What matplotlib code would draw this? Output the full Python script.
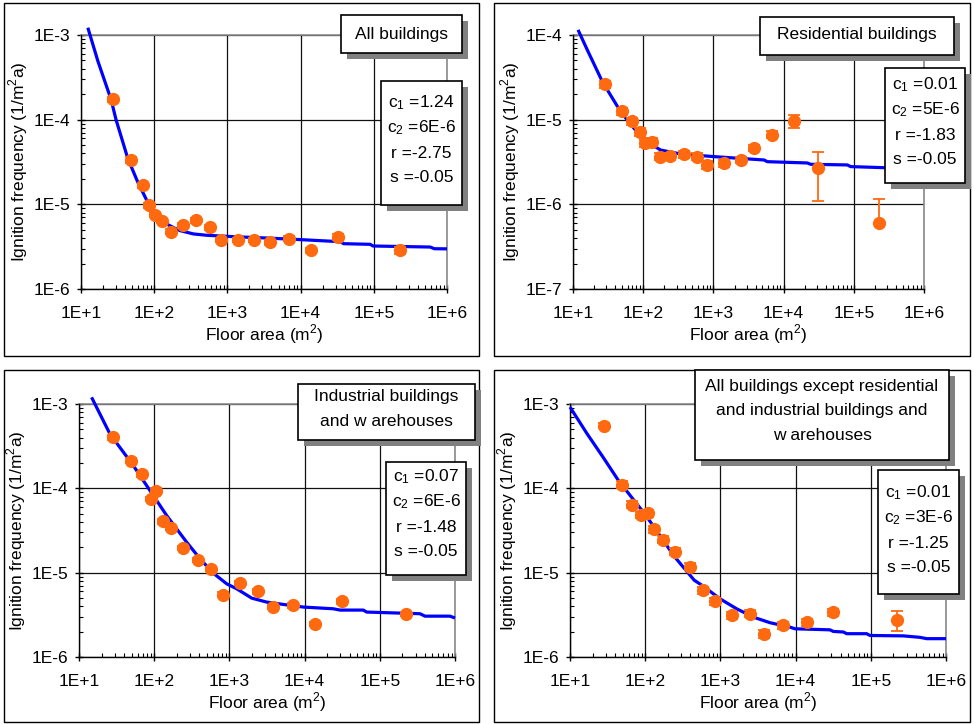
import numpy as np
import matplotlib
matplotlib.use('Agg')
import matplotlib.pyplot as plt
from matplotlib.patches import Rectangle
from matplotlib.ticker import LogLocator, FuncFormatter, NullFormatter

plt.rcParams['font.family'] = ['Liberation Sans', 'DejaVu Sans']
plt.rcParams['mathtext.fontset'] = 'custom'
plt.rcParams['mathtext.rm'] = 'Liberation Sans'

# ---------------- data ----------------
# Panel 1: All buildings
x1 = [27.1, 48.3, 69.7, 85.9, 104, 129, 170, 245, 373, 574, 820, 1387, 2344, 3838, 6838, 13670, 32000, 230000]
y1 = [1.74e-4, 3.34e-5, 1.69e-5, 9.8e-6, 7.5e-6, 6.4e-6, 4.75e-6, 5.65e-6, 6.47e-6, 5.35e-6,
      3.8e-6, 3.8e-6, 3.8e-6, 3.59e-6, 3.93e-6, 2.86e-6, 4.11e-6, 2.86e-6]
e1 = [1.2e-5, 2.5e-6, 1.2e-6, 7e-7, 5e-7, 4e-7, 3e-7, 4e-7, 4e-7, 4e-7,
      2.5e-7, 2.5e-7, 2.5e-7, 2.5e-7, 2.5e-7, 2e-7, 3e-7, 2.5e-7]
cx1 = [12.4, 17.0, 25.8, 30.1, 43.5, 59.3, 81, 111, 148, 187, 226, 344, 523, 1210, 3460, 9890,
       34800, 38600, 89500, 97300, 591000, 671000, 1e6]
cy1 = [1.22e-3, 4.92e-4, 1.72e-4, 1.0e-4, 3.5e-5, 1.85e-5, 1.07e-5, 7.13e-6, 5.86e-6, 5.27e-6,
       4.89e-6, 4.47e-6, 4.31e-6, 4.15e-6, 4.0e-6, 3.83e-6, 3.62e-6, 3.43e-6, 3.37e-6,
       3.22e-6, 3.13e-6, 2.99e-6, 2.98e-6]

# Panel 2: Residential buildings
x2 = [28.6, 49.3, 68.5, 90, 105, 133, 172, 241, 381, 578, 802, 1400, 2443, 3784, 6915, 14230, 30900, 226000]
y2 = [2.61e-5, 1.26e-5, 9.6e-6, 7.2e-6, 5.25e-6, 5.5e-6, 3.66e-6, 3.72e-6, 3.9e-6, 3.66e-6,
      2.92e-6, 3.08e-6, 3.34e-6, 4.67e-6, 6.65e-6, 9.55e-6, 2.66e-6, 5.97e-7]
lo2 = [2.5e-6, 1.2e-6, 9e-7, 7e-7, 5e-7, 5e-7, 3.5e-7, 3.5e-7, 3.5e-7, 3.5e-7,
       3e-7, 3e-7, 3e-7, 4e-7, 6e-7, 1.65e-6, 1.56e-6, 0.0]
hi2 = [2.5e-6, 1.2e-6, 9e-7, 7e-7, 5e-7, 5e-7, 3.5e-7, 3.5e-7, 3.5e-7, 3.5e-7,
       3e-7, 3e-7, 3e-7, 4e-7, 6e-7, 1.8e-6, 1.53e-6, 5.6e-7]
cx2 = [11.8, 16.0, 26.2, 47.8, 74, 103, 177, 342, 1020, 5260, 5870, 21800, 24300,
       80900, 90200, 269000, 1e6]
cy2 = [1.15e-4, 6.65e-5, 2.81e-5, 1.24e-5, 7.9e-6, 5.75e-6, 4.38e-6, 3.93e-6, 3.66e-6,
       3.34e-6, 3.19e-6, 3.08e-6, 2.97e-6, 2.92e-6, 2.79e-6, 2.71e-6, 2.55e-6]

# Panel 3: Industrial buildings and warehouses
x3 = [28, 48.6, 69.5, 89.7, 104.6, 130, 167, 239, 382, 569, 813, 1383, 2426, 3840, 7080, 13900, 31800, 223000]
y3 = [4.03e-4, 2.13e-4, 1.46e-4, 7.5e-5, 9.4e-5, 4.07e-5, 3.4e-5, 1.97e-5, 1.41e-5, 1.11e-5,
      5.47e-6, 7.52e-6, 5.99e-6, 3.91e-6, 4.09e-6, 2.48e-6, 4.56e-6, 3.26e-6]
e3 = [2.5e-5, 1.3e-5, 9e-6, 5e-6, 6e-6, 2.5e-6, 2e-6, 1.2e-6, 9e-7, 7e-7,
      3.5e-7, 4.5e-7, 3.5e-7, 2.5e-7, 2.5e-7, 1.5e-7, 2.8e-7, 2e-7]
cx3 = [14.7, 25.8, 52.8, 88, 146.5, 270, 407, 611, 920, 1250, 1978, 3130, 5210, 9610,
       24100, 29600, 60400, 66800, 342000, 399000, 857000, 1e6]
cy3 = [1.2e-3, 4.41e-4, 1.86e-4, 9.4e-5, 4.76e-5, 2.30e-5, 1.46e-5, 9.86e-6, 7.38e-6, 6.44e-6,
       4.99e-6, 4.48e-6, 4.20e-6, 3.91e-6, 3.73e-6, 3.60e-6, 3.60e-6, 3.41e-6, 3.26e-6,
       3.05e-6, 3.05e-6, 2.9e-6]

# Panel 4: All buildings except residential and industrial buildings and warehouses
x4 = [28.3, 49.7, 67.5, 87.1, 108, 132, 174, 249, 394, 593, 857, 1427, 2475, 3800, 6870, 14300, 31800, 221000]
y4 = [5.54e-4, 1.11e-4, 6.43e-5, 4.84e-5, 5.11e-5, 3.25e-5, 2.47e-5, 1.78e-5, 1.18e-5, 6.15e-6,
      4.56e-6, 3.11e-6, 3.26e-6, 1.89e-6, 2.37e-6, 2.6e-6, 3.41e-6, 2.72e-6]
lo4 = [3.5e-5, 1.0e-5, 6e-6, 4.5e-6, 5e-6, 3e-6, 2.3e-6, 1.6e-6, 1.1e-6, 6e-7,
       4.5e-7, 3e-7, 3e-7, 2e-7, 2.2e-7, 2.5e-7, 3.2e-7, 7.1e-7]
hi4 = [3.5e-5, 1.0e-5, 6e-6, 4.5e-6, 5e-6, 3e-6, 2.3e-6, 1.6e-6, 1.1e-6, 6e-7,
       4.5e-7, 3e-7, 3e-7, 2e-7, 2.2e-7, 2.5e-7, 3.2e-7, 7.5e-7]
cx4 = [10, 16.7, 27.7, 44.3, 77, 100, 245, 448, 593, 988, 1645, 2740, 4570, 8430, 9820,
       28600, 31800, 43200, 47800, 88100, 97500, 271000, 451000, 553000, 1e6]
cy4 = [9.2e-4, 4.5e-4, 2.32e-4, 1.23e-4, 6.57e-5, 4.91e-5, 1.55e-5, 8.15e-6, 6.9e-6, 4.90e-6,
       3.73e-6, 2.97e-6, 2.55e-6, 2.26e-6, 2.16e-6, 2.10e-6, 2.01e-6, 1.98e-6, 1.89e-6,
       1.89e-6, 1.80e-6, 1.78e-6, 1.71e-6, 1.65e-6, 1.65e-6]

titles = ["All buildings", "Residential buildings",
          "Industrial buildings\nand w arehouses",
          "All buildings except residential\nand industrial buildings and\nw arehouses"]
params = [["1.24", "6E-6", "-2.75", "-0.05"],
          ["0.01", "5E-6", "-1.83", "-0.05"],
          ["0.07", "6E-6", "-1.48", "-0.05"],
          ["0.01", "3E-6", "-1.25", "-0.05"]]
ylims = [(1e-6, 1e-3), (1e-7, 1e-4), (1e-6, 1e-3), (1e-6, 1e-3)]

# ---------------- layout (pixels) ----------------
W, H = 974, 724
fig = plt.figure(figsize=(W / 100, H / 100), dpi=100)
fig.patch.set_facecolor('white')

def frac(a0, b0, a1, b1):
    return [a0 / W, 1 - b1 / H, (a1 - a0) / W, (b1 - b0) / H]

frames = [(4, 3, 479, 356), (494, 3, 970, 356), (4, 370, 479, 722), (494, 370, 970, 722)]
axes_px = [(81, 35, 447, 289), (573, 35, 924, 289), (79, 404, 455, 657), (570, 404, 946, 657)]
title_boxes = [(341, 15, 462, 53), (760, 17, 954, 55), (298, 384, 475, 440), (695, 370, 949, 460)]
title_lines_y = [[34], [34], [397, 422], [387, 411, 436]]
param_boxes = [(381, 81, 462, 205), (885, 68, 965, 183), (386, 462, 466, 575), (878, 470, 959, 594)]
param_lines_y = [[103, 128, 153, 178], [85, 110, 135, 160], [477, 502, 527, 552], [493, 518, 543, 568]]

ORANGE = '#FF6A10'
BLUE = '#0000FF'
FS = 12.5

def rect_px(a0, b0, a1, b1, **kw):
    r = Rectangle((a0 / W, 1 - b1 / H), (a1 - a0) / W, (b1 - b0) / H,
                  transform=fig.transFigure, **kw)
    fig.add_artist(r)
    return r

def text_px(px, py, s, **kw):
    fig.text(px / W, 1 - py / H, s, **kw)

for fr in frames:
    rect_px(*fr, fill=False, edgecolor='black', linewidth=1.0, zorder=0)

data = [(x1, y1, e1, e1, cx1, cy1), (x2, y2, lo2, hi2, cx2, cy2),
        (x3, y3, e3, e3, cx3, cy3), (x4, y4, lo4, hi4, cx4, cy4)]

fmt = FuncFormatter(lambda v, p: '1E%+d' % int(round(np.log10(v))))

for i in range(4):
    ax = fig.add_axes(frac(*axes_px[i]))
    ax.set_xscale('log')
    ax.set_yscale('log')
    ax.set_xlim(10, 1e6)
    ax.set_ylim(*ylims[i])
    xs, ys, lo, hi, cx, cy = data[i]
    ax.grid(True, which='major', color='#111111', linewidth=0.9)
    ax.plot(cx, cy, color=BLUE, linewidth=2.3, zorder=3, clip_on=False, solid_capstyle='butt')
    ax.errorbar(xs, ys, yerr=[lo, hi], fmt='o', color=ORANGE, ms=8.5, mec=ORANGE,
                ecolor=ORANGE, elinewidth=1.3, capsize=4, capthick=1.3, zorder=4)
    for side in ('top', 'right'):
        ax.spines[side].set_color('#8a8a8a')
        ax.spines[side].set_linewidth(1.2)
        ax.spines[side].set_zorder(2.6)
    for side in ('left', 'bottom'):
        ax.spines[side].set_linewidth(1.0)
        ax.spines[side].set_zorder(2.7)
    ax.xaxis.set_major_locator(LogLocator(base=10, numticks=10))
    ax.yaxis.set_major_locator(LogLocator(base=10, numticks=10))
    ax.xaxis.set_minor_locator(LogLocator(base=10, subs=np.arange(2, 10), numticks=20))
    ax.yaxis.set_minor_locator(LogLocator(base=10, subs=np.arange(2, 10), numticks=20))
    ax.xaxis.set_major_formatter(fmt)
    ax.yaxis.set_major_formatter(fmt)
    ax.xaxis.set_minor_formatter(NullFormatter())
    ax.yaxis.set_minor_formatter(NullFormatter())
    ax.tick_params(which='major', direction='inout', length=6, width=1.0, labelsize=FS)
    ax.tick_params(axis='x', which='major', pad=9)
    ax.tick_params(axis='y', which='major', pad=5)
    ax.tick_params(which='minor', direction='in', length=3, width=0.8)
    ax.tick_params(top=False, right=False, which='both')
    ax.set_xlabel('Floor area (m$^2$)', fontsize=FS, labelpad=1)
    ax.set_ylabel('Ignition frequency (1/m$^2$a)', fontsize=FS, labelpad=2)
    ax.set_facecolor('none')

    # title box with shadow
    bx0, by0, bx1, by1 = title_boxes[i]
    rect_px(bx0 + 6, by0 + 6, bx1 + 6, by1 + 6, facecolor='#808080', edgecolor='none', zorder=10)
    rect_px(bx0, by0, bx1, by1, facecolor='white', edgecolor='black', linewidth=1.2, zorder=11)
    for ln, yy in zip(titles[i].split('\n'), title_lines_y[i]):
        text_px((bx0 + bx1) / 2, yy, ln, ha='center', va='center', fontsize=FS, zorder=12)

    # parameter box with shadow
    px0, py0, px1, py1 = param_boxes[i]
    rect_px(px0 + 6, py0 + 6, px1 + 6, py1 + 6, facecolor='#808080', edgecolor='none', zorder=10)
    rect_px(px0, py0, px1, py1, facecolor='white', edgecolor='black', linewidth=1.2, zorder=11)
    labels = [r'$\mathregular{c_1}$ =', r'$\mathregular{c_2}$ =', 'r =', 's =']
    for lab, val, yy in zip(labels, params[i], param_lines_y[i]):
        text_px((px0 + px1) / 2, yy, lab + val, ha='center', va='center', fontsize=FS, zorder=12)

fig.savefig('out.png', dpi=100, facecolor='white')
